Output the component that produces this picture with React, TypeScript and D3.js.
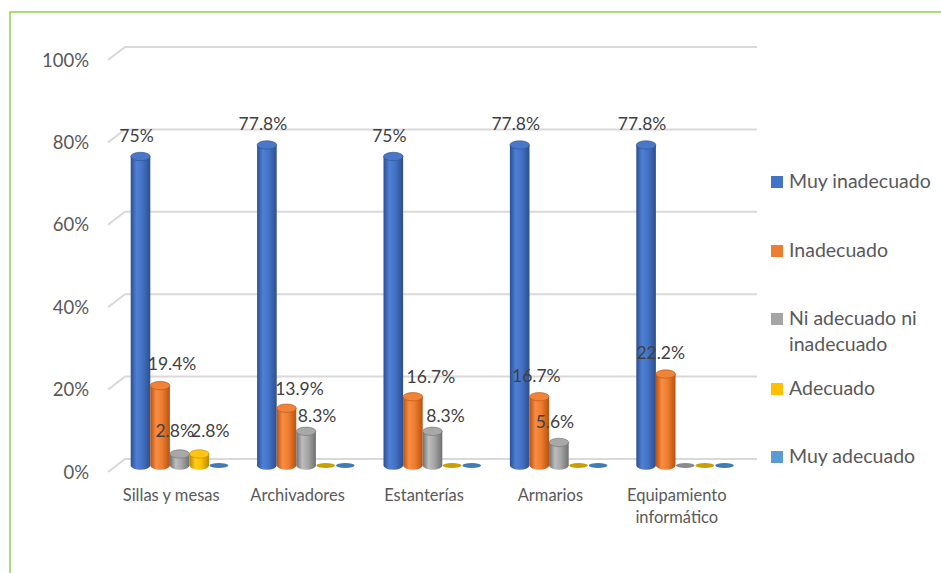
import React from "react";
import * as d3 from "d3";

const categories = ["Sillas y mesas", "Archivadores", "Estanterías", "Armarios", "Equipamiento informático"];
const seriesNames = ["Muy inadecuado", "Inadecuado", "Ni adecuado ni inadecuado", "Adecuado", "Muy adecuado"];
const muyInadecuado = [75, 77.8, 75, 77.8, 77.8];
const inadecuado = [19.4, 13.9, 16.7, 16.7, 22.2];
const niAdecuado = [2.8, 8.3, 8.3, 5.6, 0];
const adecuado = [2.8, 0, 0, 0, 0];
const muyAdecuado = [0, 0, 0, 0, 0];
const yTicks = [0, 20, 40, 60, 80, 100];

const seriesValues = [muyInadecuado, inadecuado, niAdecuado, adecuado, muyAdecuado];

// styles
const palette = [
  { edge: "#2c4f8f", mid: "#4f80d6", base: "#4472C4", top: "#4a78c8", flat: "#3a64ae" },
  { edge: "#b8520f", mid: "#f88d44", base: "#ED7D31", top: "#ef8338", flat: "#c8651f" },
  { edge: "#707070", mid: "#bdbdbd", base: "#A5A5A5", top: "#a8a8a8", flat: "#8a8a8a" },
  { edge: "#b88a00", mid: "#ffcc1f", base: "#FFC000", top: "#ffc414", flat: "#c9a000" },
  { edge: "#3f78b0", mid: "#6aa8e0", base: "#5B9BD5", top: "#5b9bd5", flat: "#3f7cb5" },
];
// label placement tweaks (dx from bar centre, dy of label centre above bar top)
const labelDx = [
  [-4, -4, -4, -4, -4],
  [12, 13, 18, -3, -5],
  [-5, 11, 13, -4, 0],
  [11, 0, 0, 0, 0],
  [0, 0, 0, 0, 0],
];
const labelDy = [
  [-19, -19, -19, -19, -19],
  [-20, -18, -18, -19, -19],
  [-21, -14, -14, -19, -19],
  [-21, -19, -19, -19, -19],
  [-19, -19, -19, -19, -19],
];

const FONT = "Lato, 'Liberation Sans', sans-serif";
const TEXT = "#595959";

export default function App() {
  const backLeft = 125;
  const backRight = 757;
  const ddx = 17;
  const ddy = 13;
  const yBack = d3.scaleLinear().domain([0, 100]).range([459, 47]);
  const yMid = (v: number) => yBack(v) + ddy / 2;

  const xMid = d3
    .scaleBand<string>()
    .domain(categories)
    .range([backLeft - ddx / 2, backRight - ddx / 2])
    .paddingInner(0)
    .paddingOuter(0);
  const groupW = 98;
  const xInner = d3.scaleBand<number>().domain(d3.range(seriesNames.length)).range([0, groupW]);
  const bw = xInner.bandwidth();
  const ry = 4.2;

  return (
    <svg
      width={941}
      height={573}
      style={{ position: "absolute", left: 0, top: 0, background: "#fff" }}
      fontFamily={FONT}
    >
      <defs>
        {palette.map((p, i) => (
          <linearGradient key={i} id={`cyl${i}`} x1="0" x2="1" y1="0" y2="0">
            <stop offset="0%" stopColor={p.edge} />
            <stop offset="30%" stopColor={p.mid} />
            <stop offset="60%" stopColor={p.base} />
            <stop offset="100%" stopColor={p.edge} />
          </linearGradient>
        ))}
      </defs>
      <rect x={10} y={12} width={1000} height={1000} fill="none" stroke="#92D050" strokeWidth={1.5} />

      {/* gridlines */}
      {yTicks.map((t) => (
        <g key={t}>
          <polyline
            points={`${backLeft - ddx},${yBack(t) + ddy} ${backLeft},${yBack(t)} ${backRight},${yBack(t)}`}
            fill="none"
            stroke="#D9D9D9"
            strokeWidth={2}
          />
          <text
            x={89}
            y={yBack(t) + ddy + 2}
            textAnchor="end"
            dominantBaseline="middle"
            fontSize={18.5}
            fill={TEXT}
          >
            {t}%
          </text>
        </g>
      ))}

      {/* bars */}
      {categories.map((c, ci) => {
        const gx = (xMid(c) as number) + (xMid.bandwidth() - groupW) / 2;
        return (
          <g key={c}>
            {seriesValues.map((vals, si) => {
              const v = vals[ci];
              const x0 = gx + (xInner(si) as number);
              const yb = yMid(0);
              const yt = yMid(v);
              const rx = bw / 2;
              const cx = x0 + rx;
              if (v === 0) {
                return <ellipse key={si} cx={cx} cy={yb} rx={rx - 0.5} ry={2.6} fill={palette[si].flat} />;
              }
              return (
                <g key={si}>
                  <path
                    d={`M${x0},${yt} L${x0},${yb} A${rx},${ry} 0 0 0 ${x0 + bw},${yb} L${x0 + bw},${yt} Z`}
                    fill={`url(#cyl${si})`}
                  />
                  <ellipse cx={cx} cy={yt} rx={rx} ry={ry} fill={palette[si].top} stroke={palette[si].edge} strokeWidth={0.6} />
                </g>
              );
            })}
          </g>
        );
      })}

      {/* data labels */}
      {categories.map((c, ci) => {
        const gx = (xMid(c) as number) + (xMid.bandwidth() - groupW) / 2;
        return seriesValues.map((vals, si) => {
          const v = vals[ci];
          if (v === 0) return null;
          const cx = gx + (xInner(si) as number) + bw / 2;
          return (
            <text
              key={`${ci}-${si}`}
              x={cx + labelDx[si][ci]}
              y={yMid(v) + labelDy[si][ci]}
              textAnchor="middle"
              dominantBaseline="middle"
              fontSize={17.5}
              fill="#404040"
            >
              {`${v}%`}
            </text>
          );
        });
      })}

      {/* category labels */}
      {categories.map((c) => {
        const cx = (xMid(c) as number) + xMid.bandwidth() / 2 - ddx / 2;
        const words = c === "Equipamiento informático" ? ["Equipamiento", "informático"] : [c];
        return (
          <text key={c} x={cx} y={497} textAnchor="middle" dominantBaseline="middle" fontSize={16.5} fill={TEXT}>
            {words.map((w, i) => (
              <tspan key={i} x={cx} dy={i === 0 ? 0 : 22}>
                {w}
              </tspan>
            ))}
          </text>
        );
      })}

      {/* legend */}
      {[
        { lines: ["Muy inadecuado"], y: 182 },
        { lines: ["Inadecuado"], y: 251 },
        { lines: ["Ni adecuado ni", "inadecuado"], y: 319 },
        { lines: ["Adecuado"], y: 389 },
        { lines: ["Muy adecuado"], y: 457 },
      ].map((e, i) => (
        <g key={seriesNames[i]}>
          <rect x={771} y={e.y - 6} width={12} height={12} fill={palette[i].base} />
          <text x={789} y={e.y + 1} dominantBaseline="middle" fontSize={19.5} fill={TEXT}>
            {e.lines.map((l, li) => (
              <tspan key={li} x={789} dy={li === 0 ? 0 : 26}>
                {l}
              </tspan>
            ))}
          </text>
        </g>
      ))}
    </svg>
  );
}
